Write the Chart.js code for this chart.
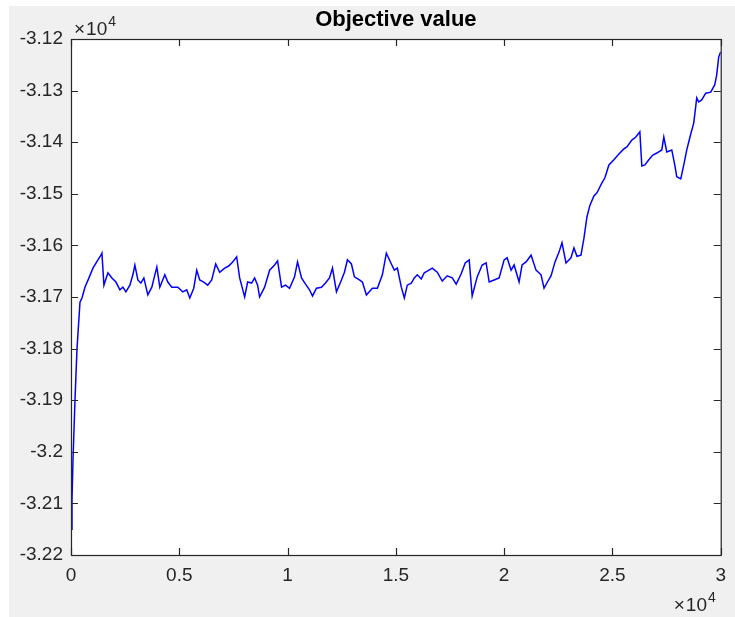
<!DOCTYPE html>
<html>
<head>
<meta charset="utf-8">
<title>Objective value</title>
<script src="https://cdn.jsdelivr.net/npm/chart.js@4.4.1/dist/chart.umd.min.js"></script>
<style>
	html, body { margin: 0; padding: 0; background: #ffffff; }
	#wrap { position: relative; width: 735px; height: 617px; }
</style>
</head>
<body>
<div id="wrap"><canvas id="objective-chart" width="735" height="617"></canvas></div>
<script>
// iteration number (x 10^4)
var iterations = [
	0, 46, 92, 184, 276, 415, 507, 645, 829, 1014, 1244, 1382, 1428, 1521, 1705, 1889, 2074, 2258, 2396, 2534,
	2719, 2857, 2949, 3087, 3226, 3364, 3548, 3732, 3871, 3963, 4101, 4332, 4470, 4654, 4931, 5161, 5345, 5484, 5668, 5806,
	5944, 6129, 6313, 6497, 6682, 6866, 7096, 7281, 7465, 7649, 7788, 8018, 8156, 8340, 8479, 8617, 8709, 8940, 9170, 9400,
	9539, 9723, 9907, 10092, 10322, 10460, 10644, 10829, 11013, 11151, 11336, 11566, 11750, 11935, 12073, 12257, 12488, 12626, 12764, 12948,
	13087, 13317, 13455, 13640, 13916, 14147, 14377, 14561, 14792, 14930, 15068, 15252, 15391, 15529, 15713, 15852, 15990, 16174, 16312, 16451,
	16681, 16911, 17142, 17372, 17603, 17787, 18017, 18202, 18386, 18524, 18755, 18985, 19169, 19308, 19538, 19768, 19999, 20137, 20321, 20460,
	20690, 20828, 21012, 21243, 21473, 21704, 21842, 22026, 22164, 22349, 22533, 22671, 22856, 23086, 23224, 23363, 23547, 23685, 23823, 23962,
	24146, 24284, 24515, 24653, 24837, 25068, 25298, 25528, 25667, 25897, 26081, 26266, 26358, 26496, 26680, 26865, 27049, 27279, 27372, 27510,
	27740, 27878, 27971, 28155, 28294, 28432, 28616, 28754, 28893, 28985, 29123, 29307, 29538, 29722, 29814, 29906, 30000
];

// objective value at each iteration
var objective = [
	-32150, -32093, -32016, -31900, -31801, -31710, -31702, -31681, -31663, -31644, -31628, -31619, -31615, -31677, -31653, -31663, -31671, -31686, -31681, -31690,
	-31677, -31657, -31638, -31667, -31673, -31663, -31696, -31681, -31657, -31642, -31681, -31657, -31671, -31681, -31681, -31690, -31686, -31702, -31683, -31648,
	-31667, -31671, -31677, -31667, -31636, -31652, -31644, -31640, -31632, -31622, -31663, -31700, -31671, -31673, -31663, -31677, -31700, -31681, -31648, -31638,
	-31630, -31681, -31677, -31683, -31661, -31632, -31663, -31675, -31686, -31698, -31683, -31681, -31673, -31663, -31644, -31690, -31667, -31652, -31628, -31636,
	-31661, -31667, -31671, -31696, -31683, -31683, -31657, -31615, -31636, -31648, -31644, -31681, -31702, -31677, -31673, -31663, -31657, -31665, -31653, -31650,
	-31644, -31652, -31669, -31659, -31663, -31675, -31655, -31634, -31628, -31698, -31661, -31638, -31634, -31671, -31667, -31663, -31628, -31624, -31648, -31638,
	-31671, -31638, -31632, -31619, -31648, -31657, -31683, -31669, -31659, -31632, -31613, -31595, -31634, -31624, -31605, -31621, -31619, -31586, -31545, -31522,
	-31504, -31498, -31479, -31469, -31444, -31434, -31423, -31413, -31409, -31396, -31390, -31380, -31446, -31444, -31434, -31425, -31421, -31415, -31390, -31419,
	-31415, -31444, -31467, -31471, -31444, -31415, -31384, -31363, -31314, -31322, -31318, -31305, -31303, -31289, -31270, -31235, -31225
];

var yTickMin = -32200;
var yTickMax = -31200;
var yTickStep = 100;
var xTickMin = 0;
var xTickMax = 30000;
var xTickStep = 5000;

var points = [];
for (var i = 0; i < iterations.length; i++) {
	points.push({ x : iterations[i], y : objective[i] });
}

var axisColor = "#262626";
var tickFont = { family : "'Liberation Sans', Arial, sans-serif", size : 19 };

// x 10^4 scale factor, strips trailing zeros like matlab does
function scaled(v) {
	return String(parseFloat((v / 10000).toFixed(2)));
}

// draws "x10^4" starting at left
function drawExponent(ctx, left, baseline) {
	ctx.save();
	ctx.fillStyle = axisColor;
	ctx.textBaseline = "alphabetic";
	ctx.textAlign = "left";
	ctx.font = "19px 'Liberation Sans', Arial, sans-serif";
	var timesW = ctx.measureText("\u00d7").width;
	var tenW = ctx.measureText("10").width;
	ctx.fillText("\u00d7", left, baseline);
	ctx.fillText("10", left + timesW + 1, baseline);
	ctx.font = "14px 'Liberation Sans', Arial, sans-serif";
	ctx.fillText("4", left + timesW + 2 + tenW, baseline - 9);
	ctx.restore();
}

// matlab style figure: grey background, boxed axes, ticks pointing inwards
var matlabFrame = {
	id : "matlabFrame",
	beforeDraw : function(chart) {
		var ctx = chart.ctx;
		var area = chart.chartArea;
		ctx.save();
		ctx.fillStyle = "#f0f0f0";
		ctx.fillRect(9, 6, chart.width - 9, chart.height - 6);
		ctx.fillStyle = "#ffffff";
		ctx.fillRect(area.left, area.top, area.right - area.left, area.bottom - area.top);
		ctx.restore();
	},
	afterDraw : function(chart) {
		var ctx = chart.ctx;
		var area = chart.chartArea;
		var xs = chart.scales.x;
		var ys = chart.scales.y;
		var len = 7;
		ctx.save();
		ctx.strokeStyle = axisColor;
		ctx.lineWidth = 1.2;
		ctx.beginPath();
		xs.ticks.forEach(function(t) {
			var px = Math.round(xs.getPixelForValue(t.value)) + 0.5;
			ctx.moveTo(px, area.bottom);
			ctx.lineTo(px, area.bottom - len);
			ctx.moveTo(px, area.top);
			ctx.lineTo(px, area.top + len);
		});
		ys.ticks.forEach(function(t) {
			var py = Math.round(ys.getPixelForValue(t.value)) + 0.5;
			ctx.moveTo(area.left, py);
			ctx.lineTo(area.left + len, py);
			ctx.moveTo(area.right, py);
			ctx.lineTo(area.right - len, py);
		});
		ctx.stroke();
		ctx.strokeRect(area.left + 0.5, area.top + 0.5, area.right - area.left, area.bottom - area.top);

		// title
		ctx.fillStyle = "#000000";
		ctx.font = "bold 22px 'Liberation Sans', Arial, sans-serif";
		ctx.textAlign = "center";
		ctx.textBaseline = "alphabetic";
		ctx.fillText("Objective value", (area.left + area.right) / 2, 26);
		ctx.restore();

		drawExponent(ctx, area.left + 3, 35);
		drawExponent(ctx, area.right - 47, 611);
	}
};

var ctx = document.getElementById("objective-chart");

var data = {
	datasets : [
		{
			label : "Objective value",
			data : points,
			borderColor : "#0000ff",
			backgroundColor : "#0000ff",
			borderWidth : 1.5,
			fill : false,
			tension : 0,
			pointRadius : 0
		}
	]
};

var options = {
	responsive : false,
	animation : false,
	layout : { padding : { left : 0, top : 39, right : 13, bottom : 0 } },
	plugins : {
		legend : { display : false },
		title : { display : false },
		tooltip : { enabled : false }
	},
	scales : {
		x : {
			type : "linear",
			min : xTickMin,
			max : xTickMax,
			grid : { display : false, drawTicks : false },
			border : { display : false },
			ticks : {
				stepSize : xTickStep,
				color : axisColor,
				font : tickFont,
				padding : 9,
				maxRotation : 0,
				callback : function(v) { return scaled(v); }
			},
			afterFit : function(scale) { scale.height = 62; }
		},
		y : {
			type : "linear",
			min : yTickMin,
			max : yTickMax,
			grid : { display : false, drawTicks : false },
			border : { display : false },
			ticks : {
				stepSize : yTickStep,
				color : axisColor,
				font : tickFont,
				padding : 8,
				callback : function(v) { return scaled(v); }
			},
			afterFit : function(scale) { scale.width = 71; }
		}
	}
};

var chart = new Chart(ctx, {
	type : "line",
	data : data,
	options : options,
	plugins : [matlabFrame]
});
</script>
</body>
</html>
